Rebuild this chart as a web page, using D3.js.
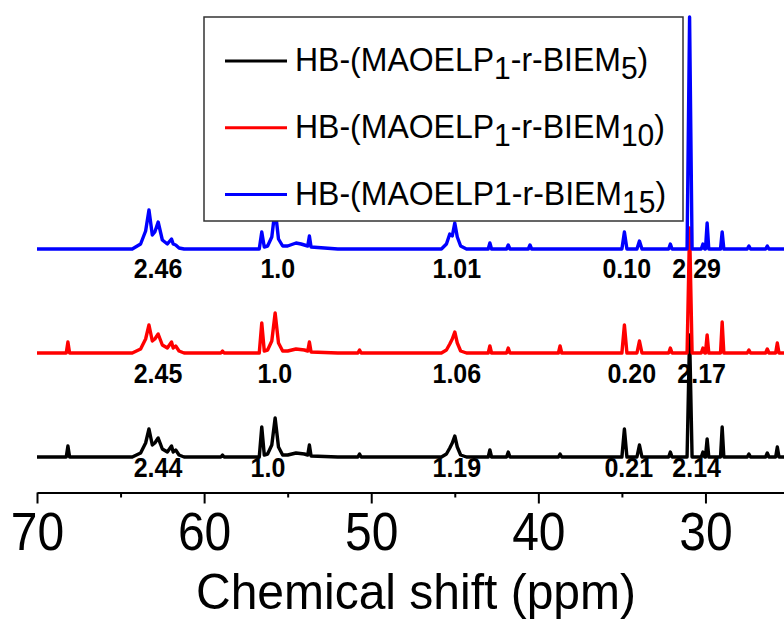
<!DOCTYPE html>
<html>
<head>
<meta charset="utf-8">
<script src="https://cdn.jsdelivr.net/npm/d3@7"></script>
<style>
  body { margin: 0; background: #fff; }
  text { font-family: Arial, "Liberation Sans", sans-serif; }
</style>
</head>
<body>
<div id="chart"></div>
<script>
// spectra as [ppm, intensity] points
const spectrumBIEM5 = [
  [70, 0], [68.25, 0], [68.15, 11], [68.05, 0], [64.3, 0], [63.8, 4], [63.5, 14], [63.3, 28], [63.1, 12],
  [62.95, 14], [62.75, 19], [62.5, 8], [62.2, 5], [61.95, 11], [61.85, 5], [61.7, 7], [61.5, 2], [61.2, 0],
  [59.0, 0], [58.9, 2], [58.8, 0], [56.7, 0], [56.55, 30], [56.4, 2], [56.2, 3], [55.95, 12], [55.75, 39],
  [55.55, 10], [55.3, 2], [55.0, 2], [54.5, 4], [54.0, 3], [53.8, 2], [53.7, 12], [53.6, 1], [52.0, 0],
  [50.8, 0], [50.7, 3], [50.6, 0], [45.8, 0], [45.5, 3], [45.3, 9], [45.15, 14], [45.0, 21], [44.85, 10],
  [44.65, 2], [44.3, 0], [43.0, 0], [42.9, 7], [42.8, 0], [41.9, 0], [41.8, 5], [41.7, 0], [38.8, 0],
  [38.7, 3], [38.6, 0], [35.0, 0], [34.85, 28], [34.7, 0], [34.1, 0], [33.95, 12], [33.8, 0], [32.2, 0],
  [32.1, 5], [32.0, 0], [31.1, 0], [30.95, 122], [30.8, 0], [30.25, 0], [30.15, 5], [30.05, 0], [30.0, 0],
  [29.9, 18], [29.8, 0], [29.1, 0], [29.0, 30], [28.9, 0], [27.5, 0], [27.4, 3], [27.3, 0], [26.4, 0],
  [26.3, 4], [26.2, 0], [25.8, 0], [25.7, 10], [25.6, 0], [25.3, 0]
];
const spectrumBIEM10 = [
  [70, 0], [68.25, 0], [68.15, 11], [68.05, 0], [64.3, 0], [63.8, 4], [63.5, 14], [63.3, 28], [63.1, 12],
  [62.95, 14], [62.75, 19], [62.5, 8], [62.2, 5], [61.95, 11], [61.85, 5], [61.7, 7], [61.5, 2], [61.2, 0],
  [59.0, 0], [58.9, 2], [58.8, 0], [56.7, 0], [56.55, 30], [56.4, 2], [56.2, 3], [55.95, 12], [55.75, 40],
  [55.55, 10], [55.3, 2], [55.0, 2], [54.5, 4], [54.0, 3], [53.8, 2], [53.7, 11], [53.6, 1], [52.0, 0],
  [50.8, 0], [50.7, 3], [50.6, 0], [45.8, 0], [45.5, 3], [45.3, 9], [45.15, 14], [45.0, 21], [44.85, 10],
  [44.65, 2], [44.3, 0], [43.0, 0], [42.9, 7], [42.8, 0], [41.9, 0], [41.8, 5], [41.7, 0], [38.8, 0],
  [38.7, 7], [38.6, 0], [35.0, 0], [34.85, 28], [34.7, 0], [34.1, 0], [33.95, 12], [33.8, 0], [32.2, 0],
  [32.1, 5], [32.0, 0], [31.1, 0], [30.95, 125], [30.8, 0], [30.25, 0], [30.15, 5], [30.05, 0], [30.0, 0],
  [29.9, 18], [29.8, 0], [29.1, 0], [29.0, 31], [28.9, 0], [27.5, 0], [27.4, 3], [27.3, 0], [26.4, 0],
  [26.3, 4], [26.2, 0], [25.8, 0], [25.7, 10], [25.6, 0], [25.3, 0]
];
const spectrumBIEM15 = [
  [70, 0], [64.3, 0], [63.8, 5], [63.5, 18], [63.3, 39], [63.1, 14], [62.95, 17], [62.75, 27], [62.5, 9],
  [62.2, 5], [61.95, 10], [61.85, 5], [61.7, 4], [61.5, 1], [61.2, 0], [56.7, 0], [56.55, 17], [56.4, 2],
  [56.2, 3], [55.95, 12], [55.75, 40], [55.55, 10], [55.3, 3], [55.0, 3], [54.5, 6], [54.2, 5], [53.8, 3],
  [53.7, 13], [53.6, 2], [52.0, 0], [45.8, 0], [45.5, 5], [45.3, 15], [45.15, 13], [45.0, 26], [44.85, 12],
  [44.65, 3], [44.3, 0], [43.0, 0], [42.9, 6], [42.8, 0], [41.9, 0], [41.8, 4], [41.7, 0], [40.6, 0],
  [40.5, 4], [40.4, 0], [35.0, 0], [34.85, 17], [34.7, 0], [34.1, 0], [33.95, 8], [33.8, 0], [32.2, 0],
  [32.1, 5], [32.0, 0], [31.1, 0], [30.95, 232], [30.8, 0], [30.25, 0], [30.15, 5], [30.05, 0], [30.0, 0],
  [29.9, 26], [29.8, 0], [29.1, 0], [29.0, 17], [28.9, 0], [27.5, 0], [27.4, 3], [27.3, 0], [26.4, 0],
  [26.3, 3], [26.2, 0], [25.3, 0]
];

const seriesNames = ['HB-(MAOELP1-r-BIEM5)', 'HB-(MAOELP1-r-BIEM10)', 'HB-(MAOELP1-r-BIEM15)'];
const seriesColors = ['#000000', '#ff0000', '#0000ff'];

// integration labels and where they sit (ppm)
const integralsBIEM5 = ['2.44', '1.0', '1.19', '0.21', '2.14'];
const integralPpmBIEM5 = [62.76, 56.18, 44.88, 34.59, 30.53];
const integralsBIEM10 = ['2.45', '1.0', '1.06', '0.20', '2.17'];
const integralPpmBIEM10 = [62.76, 55.77, 44.88, 34.41, 30.23];
const integralsBIEM15 = ['2.46', '1.0', '1.01', '0.10', '2.29'];
const integralPpmBIEM15 = [62.76, 55.59, 44.88, 34.71, 30.53];

const majorTicks = [70, 60, 50, 40, 30];
const minorTicks = [65, 55, 45, 35];

const width = 784, height = 622;
const offsets = [0, 104, 208];
const labelDrop = [20, 30, 29];

const svg = d3.select('#chart').append('svg')
  .attr('width', width)
  .attr('height', height);

const x = d3.scaleLinear().domain([70, 25.3]).range([37, 784]);
const y = d3.scaleLinear().domain([0, 440]).range([457, 17]);

const spectra = [spectrumBIEM5, spectrumBIEM10, spectrumBIEM15];
const labelSets = [
  { vals: integralsBIEM5, ppm: integralPpmBIEM5 },
  { vals: integralsBIEM10, ppm: integralPpmBIEM10 },
  { vals: integralsBIEM15, ppm: integralPpmBIEM15 }
];

// integral labels, under the lines
labelSets.forEach((set, i) => {
  svg.append('g').selectAll('text')
    .data(set.vals)
    .enter()
    .append('text')
    .attr('transform', (d, j) => `translate(${x(set.ppm[j])},${y(offsets[i]) + labelDrop[i]}) scale(1,1.08)`)
    .attr('text-anchor', 'middle')
    .attr('font-size', '25px')
    .attr('font-weight', 'bold')
    .attr('fill', '#000')
    .text(d => d);
});

spectra.forEach((data, i) => {
  const line = d3.line()
    .x(d => x(d[0]))
    .y(d => y(d[1] + offsets[i]));
  svg.append('path')
    .datum(data)
    .attr('d', line)
    .attr('fill', 'none')
    .attr('stroke', seriesColors[i])
    .attr('stroke-width', 3.4)
    .attr('stroke-linejoin', 'round');
});

// x axis
const axisY = 492.5;
const xAxis = svg.append('g')
  .attr('transform', `translate(0,${axisY})`)
  .call(d3.axisBottom(x).tickValues(majorTicks).tickSize(11).tickSizeOuter(0).tickFormat(d3.format('d')));
xAxis.select('.domain').attr('stroke-width', 2);
xAxis.selectAll('.tick line').attr('stroke-width', 2);
xAxis.selectAll('.tick text')
  .attr('y', 0)
  .attr('dy', 0)
  .attr('transform', 'translate(0,57.5) scale(1,1.1)')
  .attr('font-size', '48px')
  .attr('font-family', 'Arial, "Liberation Sans", sans-serif')
  .attr('fill', '#000');

const minorAxis = svg.append('g')
  .attr('transform', `translate(0,${axisY})`)
  .call(d3.axisBottom(x).tickValues(minorTicks).tickSize(5).tickSizeOuter(0).tickFormat(''));
minorAxis.select('.domain').remove();
minorAxis.selectAll('.tick line').attr('stroke-width', 2);

svg.append('text')
  .attr('transform', 'translate(416,609) scale(1,1.06)')
  .attr('text-anchor', 'middle')
  .attr('font-size', '48px')
  .attr('fill', '#000')
  .text('Chemical shift (ppm)');

// legend
const legend = svg.append('g');
legend.append('rect')
  .attr('x', 204).attr('y', 17)
  .attr('width', 479).attr('height', 204)
  .attr('fill', '#fff')
  .attr('stroke', '#333')
  .attr('stroke-width', 1.5);

const legendParts = [
  [['HB-(MAOELP', false], ['1', true], ['-r-BIEM', false], ['5', true], [')', false]],
  [['HB-(MAOELP', false], ['1', true], ['-r-BIEM', false], ['10', true], [')', false]],
  [['HB-(MAOELP1-r-BIEM', false], ['15', true], [')', false]]
];

legendParts.forEach((parts, i) => {
  const rowY = 71 + i * 66.8;
  legend.append('line')
    .attr('x1', 225).attr('x2', 287)
    .attr('y1', rowY - 10).attr('y2', rowY - 10)
    .attr('stroke', seriesColors[i])
    .attr('stroke-width', 3);
  const t = legend.append('text')
    .attr('transform', `translate(295,${rowY}) scale(1,1.05)`)
    .attr('font-size', '32px')
    .attr('fill', '#000');
  let shift = 0;
  parts.forEach(([s, sub]) => {
    const dy = sub ? 8 - shift : -shift;
    shift = sub ? 8 : 0;
    t.append('tspan')
      .attr('dy', dy)
      .attr('font-size', sub ? '30px' : '32px')
      .text(s);
  });
});
</script>
</body>
</html>
